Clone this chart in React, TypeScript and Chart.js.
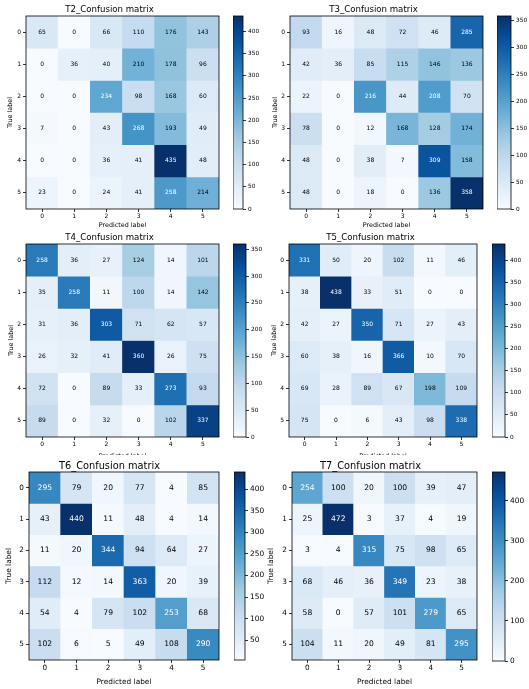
import React, { useEffect, useRef } from 'react';
import { Chart, registerables } from 'chart.js';

Chart.register(...registerables);

// ---------------- data ----------------
const CLASS_LABELS = ['0', '1', '2', '3', '4', '5'];
const X_AXIS_TITLE = 'Predicted label';
const Y_AXIS_TITLE = 'True label';

const T2_MATRIX = [
  [65, 0, 66, 110, 176, 143],
  [0, 36, 40, 210, 178, 96],
  [0, 0, 234, 98, 168, 60],
  [7, 0, 43, 268, 193, 49],
  [0, 0, 36, 41, 435, 48],
  [23, 0, 24, 41, 258, 214],
];
const T3_MATRIX = [
  [93, 16, 48, 72, 46, 285],
  [42, 36, 85, 115, 146, 136],
  [22, 0, 216, 44, 208, 70],
  [78, 0, 12, 168, 128, 174],
  [48, 0, 38, 7, 309, 158],
  [48, 0, 18, 0, 136, 358],
];
const T4_MATRIX = [
  [258, 36, 27, 124, 14, 101],
  [35, 258, 11, 100, 14, 142],
  [31, 36, 303, 71, 62, 57],
  [26, 32, 41, 360, 26, 75],
  [72, 0, 89, 33, 273, 93],
  [89, 0, 32, 0, 102, 337],
];
const T5_MATRIX = [
  [331, 50, 20, 102, 11, 46],
  [38, 438, 33, 51, 0, 0],
  [42, 27, 350, 71, 27, 43],
  [60, 38, 16, 366, 10, 70],
  [69, 28, 89, 67, 198, 109],
  [75, 0, 6, 43, 98, 338],
];
const T6_MATRIX = [
  [295, 79, 20, 77, 4, 85],
  [43, 440, 11, 48, 4, 14],
  [11, 20, 344, 94, 64, 27],
  [112, 12, 14, 363, 20, 39],
  [54, 4, 79, 102, 253, 68],
  [102, 6, 5, 49, 108, 290],
];
const T7_MATRIX = [
  [254, 100, 20, 100, 39, 47],
  [25, 472, 3, 37, 4, 19],
  [3, 4, 315, 75, 98, 65],
  [68, 46, 36, 349, 23, 38],
  [58, 0, 57, 101, 279, 65],
  [104, 11, 20, 49, 81, 295],
];

const PANEL_TITLES = [
  'T2_Confusion matrix',
  'T3_Confusion matrix',
  'T4_Confusion matrix',
  'T5_Confusion matrix',
  'T6_Confusion matrix',
  'T7_Confusion matrix',
];
const PANEL_MATRICES = [T2_MATRIX, T3_MATRIX, T4_MATRIX, T5_MATRIX, T6_MATRIX, T7_MATRIX];
const COLORBAR_STEPS = [50, 50, 50, 50, 50, 100];

// ---------------- styles ----------------
const BLUES = ['#f7fbff', '#deebf7', '#c6dbef', '#9ecae1', '#6baed6', '#4292c6', '#2171b5', '#08519c', '#08306b'];
const FONT_FAMILY = "'DejaVu Sans', 'Liberation Sans', sans-serif";

type Box = { left: number; top: number; right: number; bottom: number };
type Sizes = { title: number; tick: number; axisTitle: number; cell: number; cbTick: number };
type PanelLayout = {
  canvas: Box;
  plot: Box;
  colorbar: Box;
  titleCY: number;
  xTitleCY: number;
  yTitleCX: number;
  sizes: Sizes;
};

const SMALL: Sizes = { title: 8.6, tick: 6.0, axisTitle: 6.4, cell: 6.0, cbTick: 5.8 };
const LARGE: Sizes = { title: 9.8, tick: 7.3, axisTitle: 7.4, cell: 7.6, cbTick: 7.4 };

const LAYOUTS: PanelLayout[] = [
  {
    canvas: { left: 0, top: 0, right: 223, bottom: 232 },
    plot: { left: 26, top: 16, right: 219, bottom: 209 },
    colorbar: { left: 233, top: 16, right: 243, bottom: 209 },
    titleCY: 10, xTitleCY: 225, yTitleCX: 10.5, sizes: SMALL,
  },
  {
    canvas: { left: 264, top: 0, right: 487, bottom: 232 },
    plot: { left: 290, top: 16, right: 483, bottom: 209 },
    colorbar: { left: 497, top: 16, right: 511, bottom: 209 },
    titleCY: 10, xTitleCY: 225, yTitleCX: 275, sizes: SMALL,
  },
  {
    canvas: { left: 0, top: 228, right: 223, bottom: 462 },
    plot: { left: 26, top: 244, right: 219, bottom: 437 },
    colorbar: { left: 233, top: 244, right: 246, bottom: 437 },
    titleCY: 238, xTitleCY: 456, yTitleCX: 11, sizes: SMALL,
  },
  {
    canvas: { left: 264, top: 228, right: 481, bottom: 462 },
    plot: { left: 289, top: 244, right: 477, bottom: 437 },
    colorbar: { left: 492, top: 244, right: 505, bottom: 437 },
    titleCY: 238, xTitleCY: 456, yTitleCX: 274, sizes: SMALL,
  },
  {
    canvas: { left: 0, top: 455, right: 223, bottom: 689 },
    plot: { left: 29, top: 472, right: 219, bottom: 660 },
    colorbar: { left: 234, top: 472, right: 245, bottom: 660 },
    titleCY: 466, xTitleCY: 682, yTitleCX: 9, sizes: LARGE,
  },
  {
    canvas: { left: 264, top: 455, right: 481, bottom: 689 },
    plot: { left: 292, top: 472, right: 477, bottom: 660 },
    colorbar: { left: 492, top: 472, right: 505, bottom: 661 },
    titleCY: 466, xTitleCY: 682, yTitleCX: 271, sizes: LARGE,
  },
];

function hexToRgb(h: string): number[] {
  const n = parseInt(h.slice(1), 16);
  return [(n >> 16) & 255, (n >> 8) & 255, n & 255];
}
const BLUES_RGB = BLUES.map(hexToRgb);

function blues(t: number): string {
  const tt = Math.max(0, Math.min(1, t));
  const n = BLUES_RGB.length - 1;
  const p = tt * n;
  const i = Math.min(Math.floor(p), n - 1);
  const f = p - i;
  const a = BLUES_RGB[i];
  const b = BLUES_RGB[i + 1];
  const c = a.map((v, k) => Math.round(v + (b[k] - v) * f));
  return `rgb(${c[0]},${c[1]},${c[2]})`;
}

const framePlugin = {
  id: 'frame',
  afterDraw(chart: any) {
    const { ctx, chartArea: a } = chart;
    ctx.save();
    ctx.strokeStyle = '#000';
    ctx.lineWidth = 0.8;
    ctx.strokeRect(a.left, a.top, a.right - a.left, a.bottom - a.top);
    ctx.restore();
  },
};

function HeatmapPanel({ matrix, title, layout }: { matrix: number[][]; title: string; layout: PanelLayout }) {
  const ref = useRef<HTMLCanvasElement>(null);
  const c = layout.canvas;
  const w = c.right - c.left;
  const h = c.bottom - c.top;
  useEffect(() => {
    const p = layout.plot;
    const s = layout.sizes;
    const flat = matrix.flat();
    const vmin = Math.min(...flat);
    const vmax = Math.max(...flat);
    const thresh = (vmin + vmax) / 2;
    const titleLH = s.title * 1.2;
    const axisLH = s.axisTitle * 1.2;
    const titlePadTop = layout.titleCY - c.top - titleLH / 2;
    const titlePadBottom = p.top - c.top - titleLH - titlePadTop;
    const yAxisWidth = p.left - c.left;
    const xAxisHeight = c.bottom - p.bottom;
    const yTitlePad = layout.yTitleCX - c.left - axisLH / 2;
    const xTitlePadBottom = c.bottom - layout.xTitleCY - axisLH / 2;

    const cellText = {
      id: 'cellText',
      afterDatasetsDraw(chart: any) {
        const ctx = chart.ctx;
        ctx.save();
        ctx.font = `${s.cell}px ${FONT_FAMILY}`;
        ctx.textAlign = 'center';
        ctx.textBaseline = 'middle';
        chart.data.datasets.forEach((ds: any, i: number) => {
          const meta = chart.getDatasetMeta(i);
          meta.data.forEach((el: any, j: number) => {
            const v = ds.values[j];
            const pt = el.getCenterPoint();
            ctx.fillStyle = v > thresh ? '#fff' : '#000';
            ctx.fillText(String(v), pt.x, pt.y);
          });
        });
        ctx.restore();
      },
    };

    const tickFont = { family: FONT_FAMILY, size: s.tick };
    const axisFont = { family: FONT_FAMILY, size: s.axisTitle };
    const grid = {
      display: true,
      drawOnChartArea: false,
      drawTicks: true,
      tickLength: 3,
      tickWidth: 0.8,
      color: '#000',
      offset: false,
    };

    const chart = new Chart(ref.current as HTMLCanvasElement, {
      type: 'bar',
      data: {
        labels: CLASS_LABELS,
        datasets: matrix.map((row, r) => ({
          label: CLASS_LABELS[r],
          values: row,
          data: row.map(() => [r - 0.5, r + 0.5]),
          backgroundColor: row.map((v) => blues((v - vmin) / (vmax - vmin))),
          borderWidth: 0,
          barPercentage: 1,
          categoryPercentage: 1,
          grouped: false,
        })) as any,
      },
      options: {
        responsive: false,
        animation: false,
        events: [],
        layout: { padding: { left: 0, top: 0, right: c.right - p.right, bottom: 0 } },
        plugins: {
          legend: { display: false },
          tooltip: { enabled: false },
          title: {
            display: true,
            text: title,
            color: '#000',
            font: { family: FONT_FAMILY, size: s.title, weight: 'normal' },
            padding: { top: titlePadTop, bottom: titlePadBottom },
          },
        },
        scales: {
          x: {
            type: 'category',
            offset: true,
            grid,
            border: { display: false },
            ticks: { color: '#000', font: tickFont, padding: 1, maxRotation: 0, autoSkip: false },
            title: {
              display: true,
              text: X_AXIS_TITLE,
              color: '#000',
              font: axisFont,
              padding: { top: 0, bottom: xTitlePadBottom },
            },
            afterFit: (sc: any) => {
              sc.height = xAxisHeight;
            },
          },
          y: {
            type: 'linear',
            min: -0.5,
            max: 5.5,
            reverse: true,
            grid,
            border: { display: false },
            afterBuildTicks: (sc: any) => {
              sc.ticks = CLASS_LABELS.map((_, i) => ({ value: i }));
            },
            ticks: {
              color: '#000',
              font: tickFont,
              padding: 2,
              autoSkip: false,
              callback: (v: any) => CLASS_LABELS[v] ?? '',
            },
            title: {
              display: true,
              text: Y_AXIS_TITLE,
              color: '#000',
              font: axisFont,
              padding: { top: yTitlePad, bottom: 0 },
            },
            afterFit: (sc: any) => {
              sc.width = yAxisWidth;
            },
          },
        },
      } as any,
      plugins: [cellText, framePlugin],
    });
    return () => chart.destroy();
  }, []);
  return (
    <canvas
      ref={ref}
      width={w}
      height={h}
      style={{ position: 'absolute', left: c.left, top: c.top, width: w, height: h, background: '#fff' }}
    />
  );
}

function ColorbarPanel({ matrix, step, layout }: { matrix: number[][]; step: number; layout: PanelLayout }) {
  const ref = useRef<HTMLCanvasElement>(null);
  const cb = layout.colorbar;
  const pad = 8;
  const labelW = Math.min(22, 529 - cb.right);
  const w = cb.right - cb.left + labelW;
  const h = cb.bottom - cb.top + 2 * pad;
  useEffect(() => {
    const flat = matrix.flat();
    const vmin = Math.min(...flat);
    const vmax = Math.max(...flat);
    const s = layout.sizes;
    const gradient = (chart: any) => {
      const ys = chart.scales && chart.scales.y;
      if (!chart.chartArea || !ys) return BLUES[0];
      const g = chart.ctx.createLinearGradient(0, ys.getPixelForValue(vmin), 0, ys.getPixelForValue(vmax));
      BLUES.forEach((col, i) => g.addColorStop(i / (BLUES.length - 1), col));
      return g;
    };
    const chart = new Chart(ref.current as HTMLCanvasElement, {
      type: 'bar',
      data: {
        labels: ['colorbar'],
        datasets: [
          {
            data: [[vmin, vmax]] as any,
            backgroundColor: (ctx: any) => gradient(ctx.chart),
            borderWidth: 0,
            barPercentage: 1,
            categoryPercentage: 1,
          },
        ],
      },
      options: {
        responsive: false,
        animation: false,
        events: [],
        layout: { padding: { left: 0, right: 0, top: pad, bottom: pad } },
        plugins: { legend: { display: false }, tooltip: { enabled: false } },
        scales: {
          x: { display: false, offset: true },
          y: {
            position: 'right',
            min: vmin,
            max: vmax,
            border: { display: false },
            grid: { display: true, drawOnChartArea: false, drawTicks: true, tickLength: 3, tickWidth: 0.8, color: '#000' },
            ticks: {
              stepSize: step,
              color: '#000',
              padding: 2,
              autoSkip: false,
              font: { family: FONT_FAMILY, size: s.cbTick },
            },
            afterBuildTicks: (sc: any) => {
              const ticks: { value: number }[] = [];
              for (let v = Math.ceil(vmin / step) * step; v <= vmax; v += step) ticks.push({ value: v });
              sc.ticks = ticks;
            },
            afterFit: (sc: any) => {
              sc.width = labelW;
            },
          },
        },
      } as any,
      plugins: [framePlugin],
    });
    return () => chart.destroy();
  }, []);
  return (
    <canvas
      ref={ref}
      width={w}
      height={h}
      style={{ position: 'absolute', left: cb.left, top: cb.top - pad, width: w, height: h }}
    />
  );
}

export default function App() {
  return (
    <div style={{ position: 'absolute', left: 0, top: 0, width: 529, height: 689, background: '#fff', overflow: 'hidden' }}>
      {PANEL_MATRICES.map((m, i) => (
        <React.Fragment key={i}>
          <HeatmapPanel matrix={m} title={PANEL_TITLES[i]} layout={LAYOUTS[i]} />
          <ColorbarPanel matrix={m} step={COLORBAR_STEPS[i]} layout={LAYOUTS[i]} />
        </React.Fragment>
      ))}
    </div>
  );
}
